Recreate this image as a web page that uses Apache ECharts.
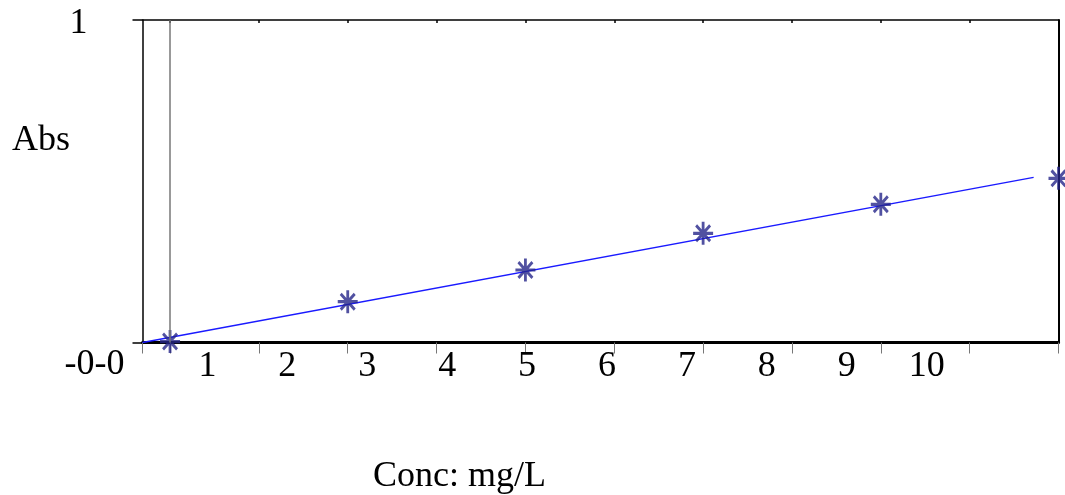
<!DOCTYPE html>
<html>
<head>
<meta charset="utf-8">
<script src="https://cdn.jsdelivr.net/npm/echarts@6/dist/echarts.min.js"></script>
<style>
html,body{margin:0;padding:0;background:#fff;}
#chart{width:1065px;height:495px;}
</style>
</head>
<body>
<div id="chart"></div>
<script>
// Standards (concentration, absorbance)
const stdConc = [0, 2, 4, 6, 8, 10];
const stdAbs = [0.003, 0.1265, 0.2248, 0.3386, 0.4285, 0.509];
// Fitted calibration line end points
const fitConc = [-0.31, 9.72];
const fitAbs = [0, 0.512];
// Axis tick marks (in concentration units) and printed tick labels
const tickValues = [-0.31, 0, 1, 2, 3, 4, 5, 6, 7, 8, 9, 10];
const labelValues = [1, 2, 3, 4, 5, 6, 7, 8, 9, 10];
const yTickLabels = ['-0-0', '1'];
const cursorConc = 0;

const FONT = 'Liberation Serif';
const chart = echarts.init(document.getElementById('chart'), null, {renderer: 'canvas'});

const starPath = 'path://M0,-11 L0,11 M-10,0 L10,0 M-7,-7.5 L7,7.5 M-7,7.5 L7,-7.5';

chart.setOption({
  animation: false,
  backgroundColor: '#ffffff',
  title: [
    {text: 'Abs', left: 7, top: 118, textStyle: {fontFamily: FONT, fontSize: 36, fontWeight: 'normal', color: '#000'}},
    {text: 'Conc: mg/L', left: 368, top: 454, textStyle: {fontFamily: FONT, fontSize: 36, fontWeight: 'normal', color: '#000'}}
  ],
  grid: {left: 142.5, right: 6.5, top: 20, bottom: 152.5, show: false},
  xAxis: [
    {
      type: 'value', min: -0.31, max: 10, position: 'bottom',
      axisLine: {show: true, onZero: false, lineStyle: {color: '#000', width: 3}},
      axisTick: {show: true, inside: false, length: 11, customValues: tickValues, lineStyle: {color: '#777', width: 1}},
      axisLabel: {show: false},
      splitLine: {show: false}
    },
    {
      type: 'value', min: 0.188, max: 11.649, position: 'bottom',
      axisLine: {show: false},
      axisTick: {show: false},
      axisLabel: {show: true, customValues: labelValues, margin: 6, fontFamily: FONT, fontSize: 36, color: '#000'},
      splitLine: {show: false}
    },
    {
      type: 'value', min: -0.31, max: 10, position: 'top',
      axisLine: {show: true, onZero: false, lineStyle: {color: '#000', width: 1.5}},
      axisTick: {show: true, inside: true, length: 3, customValues: tickValues.slice(1), lineStyle: {color: '#000', width: 1.5}},
      axisLabel: {show: false},
      splitLine: {show: false}
    }
  ],
  yAxis: [
    {
      type: 'value', min: 0, max: 1, interval: 1, position: 'left',
      axisLine: {show: true, onZero: false, lineStyle: {color: '#000', width: 1.5}},
      axisTick: {show: true, length: 10, lineStyle: {color: '#000', width: 1.5}},
      axisLabel: {
        show: true, margin: 18,
        formatter: function (v) { return v === 0 ? '{b|' + yTickLabels[0] + '}' : '{a|' + yTickLabels[1] + '}'; },
        rich: {
          a: {fontFamily: FONT, fontSize: 36, color: '#000', padding: [8, 37, 0, 0]},
          b: {fontFamily: FONT, fontSize: 36, color: '#000', padding: [44, 0, 0, 0]}
        }
      },
      splitLine: {show: false}
    },
    {
      type: 'value', min: 0, max: 1, position: 'right',
      axisLine: {show: true, onZero: false, lineStyle: {color: '#000', width: 2}},
      axisTick: {show: false}, axisLabel: {show: false}, splitLine: {show: false}
    }
  ],
  series: [
    {
      type: 'line', xAxisIndex: 0, yAxisIndex: 0,
      data: fitConc.map((c, i) => [c, fitAbs[i]]),
      showSymbol: false, symbol: 'none',
      lineStyle: {color: '#1a1aff', width: 1.5},
      markLine: {
        silent: true, symbol: ['none', 'none'], label: {show: false},
        lineStyle: {color: '#777', width: 1.5, type: 'solid'},
        data: [{xAxis: cursorConc}]
      },
      z: 3
    },
    {
      type: 'scatter', xAxisIndex: 0, yAxisIndex: 0, clip: true,
      data: stdConc.map((c, i) => [c, stdAbs[i]]),
      symbol: starPath, symbolSize: [20, 23],
      itemStyle: {color: 'rgba(0,0,0,0)', borderColor: '#25258a', borderWidth: 3},
      z: 4
    }
  ]
});
</script>
</body>
</html>
